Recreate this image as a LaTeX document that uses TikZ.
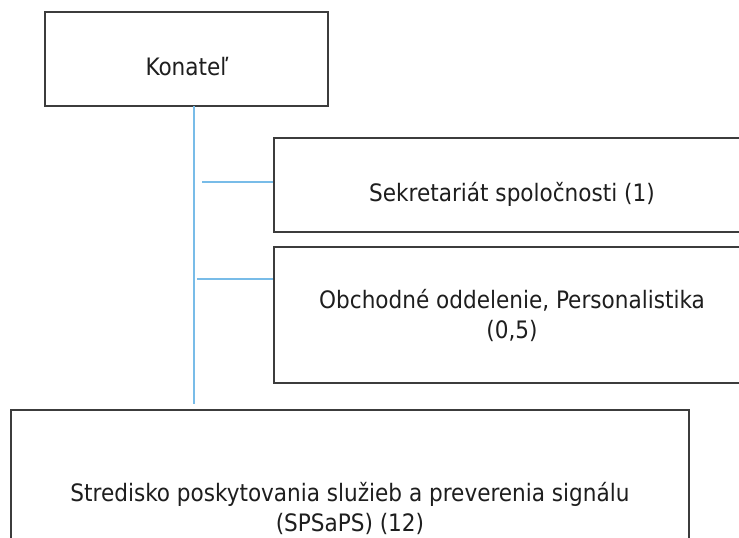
\documentclass[tikz,border=0pt]{standalone}
\usepackage{fontspec}
\setmainfont{DejaVu Sans Condensed}
\definecolor{conn}{RGB}{120,188,232}
\definecolor{boxline}{RGB}{60,60,60}
\definecolor{txt}{RGB}{30,30,30}
\tikzset{
  orgbox/.style={draw=boxline, line width=1.4pt, fill=white, inner sep=0pt},
  lbl/.style={text=txt, inner sep=0pt, align=center, font=\fontsize{24}{29.5}\selectfont},
  link/.style={draw=conn, line width=1.3pt}
}
\begin{document}
\begin{tikzpicture}[x=1pt,y=-1pt]
\useasboundingbox (0,0) rectangle (739,538);
\clip (0,0) rectangle (739,538);
% boxes
\node[orgbox, minimum width=283pt, minimum height=94pt] (kon) at (186.5,59) {};
\node[orgbox, minimum width=476pt, minimum height=94pt] (sek) at (512,185) {};
\node[orgbox, minimum width=476pt, minimum height=136pt] (obc) at (512,315) {};
\node[orgbox, minimum width=678pt, minimum height=150pt] (sps) at (350,485) {};
% labels (base anchor = baseline of the last line)
\node[lbl, anchor=base] (konT) at (187,75) {Konateľ};
\node[lbl, anchor=base] (sekT) at (512,201) {Sekretariát spoločnosti (1)};
\node[lbl, anchor=base] (obcT) at (512,338) {Obchodné oddelenie, Personalistika\\(0,5)};
\node[lbl, anchor=base] (spsT) at (350,531) {Stredisko poskytovania služieb a preverenia signálu\\(SPSaPS) (12)};
% connectors
\coordinate (vtop) at (194,106);
\coordinate (vend) at (194,404);
\coordinate (h1) at (202,182);
\coordinate (h2) at (197,279);
\draw[link] (vtop) -- (vend);
\draw[link] (h1) -- (h1 -| sek.west);
\draw[link] (h2) -- (h2 -| obc.west);
\end{tikzpicture}
\end{document}
